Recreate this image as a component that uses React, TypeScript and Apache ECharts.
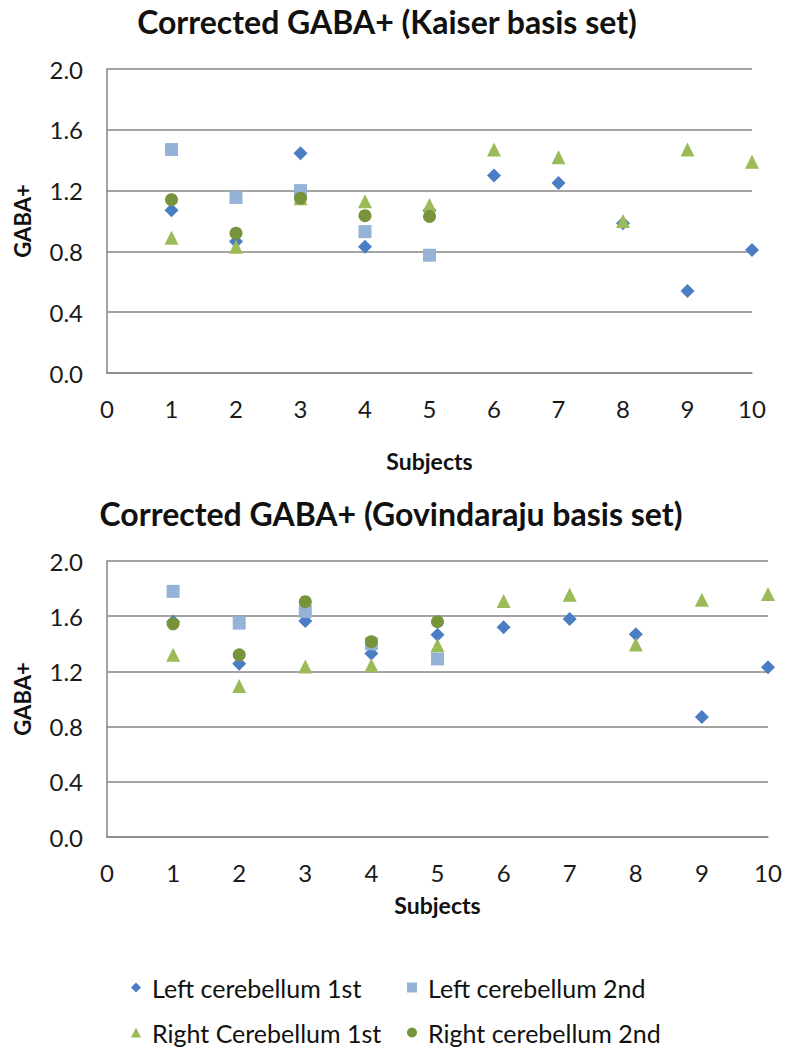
import React, { useEffect, useRef } from "react";
import * as echarts from "echarts";

const subjects = [1, 2, 3, 4, 5, 6, 7, 8, 9, 10];
const subjectsFirst5 = [1, 2, 3, 4, 5];
const xTicks = ["0", "1", "2", "3", "4", "5", "6", "7", "8", "9", "10"];
const yTicks = ["0.0", "0.4", "0.8", "1.2", "1.6", "2.0"];

const seriesNames = [
  "Left cerebellum 1st",
  "Left cerebellum 2nd",
  "Right Cerebellum 1st",
  "Right cerebellum 2nd",
];

// Kaiser basis set
const kaiserLeft1 = [1.07, 0.865, 1.445, 0.83, 1.07, 1.3, 1.25, 0.985, 0.54, 0.81];
const kaiserLeft2 = [1.47, 1.155, 1.2, 0.93, 0.775];
const kaiserRight1 = [0.89, 0.83, 1.15, 1.13, 1.105, 1.47, 1.42, 1.0, 1.47, 1.39];
const kaiserRight2 = [1.14, 0.92, 1.15, 1.035, 1.03];

// Govindaraju basis set
const govLeft1 = [1.56, 1.255, 1.565, 1.33, 1.465, 1.52, 1.58, 1.47, 0.87, 1.23];
const govLeft2 = [1.78, 1.55, 1.635, 1.4, 1.29];
const govRight1 = [1.32, 1.095, 1.235, 1.245, 1.39, 1.71, 1.755, 1.395, 1.72, 1.76];
const govRight2 = [1.545, 1.32, 1.705, 1.415, 1.56];

const colors = ["#4a7dc4", "#95b3d7", "#9bbb59", "#77933c"];
const symbols = ["diamond", "rect", "triangle", "circle"];
const symbolSizes = [14, 13, 14, 13];

const FONT = "Lato, 'Open Sans', sans-serif";
const GRID_COLOR = "#868686";

function pair(xs: number[], ys: number[]) {
  return ys.map((y, i) => [xs[i], y]);
}

export default function App() {
  const ref = useRef<HTMLDivElement>(null);

  useEffect(() => {
    if (!ref.current) return;
    const chart = echarts.init(ref.current, null, { renderer: "svg" });

    const datasets = [
      [pair(subjects, kaiserLeft1), pair(subjectsFirst5, kaiserLeft2), pair(subjects, kaiserRight1), pair(subjectsFirst5, kaiserRight2)],
      [pair(subjects, govLeft1), pair(subjectsFirst5, govLeft2), pair(subjects, govRight1), pair(subjectsFirst5, govRight2)],
    ];

    const series: any[] = [];
    datasets.forEach((group, gi) => {
      group.forEach((data, si) => {
        series.push({
          type: "scatter",
          name: seriesNames[si],
          xAxisIndex: gi,
          yAxisIndex: gi,
          data,
          symbol: symbols[si],
          symbolSize: symbolSizes[si],
          itemStyle: { color: colors[si], opacity: 1 },
          emphasis: { disabled: true },
        });
      });
    });

    const makeX = (gi: number, nameGap: number) => ({
      type: "value",
      gridIndex: gi,
      min: 0,
      max: 10,
      interval: 1,
      name: "Subjects",
      nameLocation: "middle",
      nameGap,
      nameTextStyle: { fontFamily: FONT, fontSize: 23, fontWeight: "bold", color: "#111" },
      axisLine: { show: true, onZero: false, lineStyle: { color: GRID_COLOR, width: 1.5 } },
      axisTick: { show: false },
      splitLine: { show: false },
      axisLabel: {
        fontFamily: FONT,
        fontSize: 24,
        color: "#1a1a1a",
        margin: 23,
        formatter: (v: number) => xTicks[Math.round(v)],
      },
    });

    const makeY = (gi: number) => ({
      type: "value",
      gridIndex: gi,
      min: 0,
      max: 2,
      interval: 0.4,
      name: "GABA+",
      nameLocation: "middle",
      nameGap: 74,
      nameTextStyle: { fontFamily: FONT, fontSize: 22, fontWeight: "bold", color: "#111" },
      axisLine: { show: true, lineStyle: { color: GRID_COLOR, width: 1.5 } },
      axisTick: { show: false },
      splitLine: { show: true, lineStyle: { color: GRID_COLOR, width: 1.5 } },
      axisLabel: {
        fontFamily: FONT,
        fontSize: 24,
        color: "#1a1a1a",
        margin: 24,
        formatter: (v: number) => yTicks[Math.round(v / 0.4)],
      },
    });

    const legendItem = (name: string, icon: string, left: number, top: number) => ({
      show: true,
      left,
      top,
      orient: "horizontal",
      itemWidth: 10,
      itemHeight: 10,
      itemGap: 0,
      selectedMode: false,
      data: [{ name, icon }],
      textStyle: { fontFamily: FONT, fontSize: 25, color: "#111", padding: [0, 0, 0, 6] },
    });

    chart.setOption({
      animation: false,
      backgroundColor: "#ffffff",
      title: [
        {
          text: "Corrected GABA+ (Kaiser basis set)",
          left: 382,
          top: 0,
          textAlign: "center",
          textStyle: { fontFamily: FONT, fontSize: 32, fontWeight: "bold", color: "#111" },
        },
        {
          text: "Corrected GABA+ (Govindaraju basis set)",
          left: 386,
          top: 492,
          textAlign: "center",
          textStyle: { fontFamily: FONT, fontSize: 32, fontWeight: "bold", color: "#111" },
        },
      ],
      grid: [
        { left: 107, top: 69, width: 645, height: 304 },
        { left: 107, top: 561, width: 661, height: 276 },
      ],
      xAxis: [makeX(0, 76), makeX(1, 56)],
      yAxis: [makeY(0), makeY(1)],
      legend: [
        legendItem(seriesNames[0], "diamond", 126, 970),
        legendItem(seriesNames[1], "rect", 402, 970),
        legendItem(seriesNames[2], "triangle", 126, 1015),
        legendItem(seriesNames[3], "circle", 402, 1015),
      ],
      series,
    });

    return () => chart.dispose();
  }, []);

  return (
    <div
      ref={ref}
      style={{ position: "absolute", left: 0, top: 0, width: 793, height: 1050 }}
    />
  );
}
